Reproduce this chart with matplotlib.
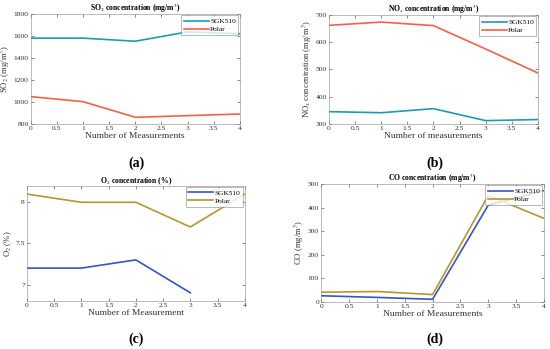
import matplotlib.pyplot as plt

plt.rcParams['font.family'] = ['Liberation Serif', 'DejaVu Serif']
plt.rcParams['mathtext.fontset'] = 'stix'

# Panel (a): SO2
x_a = [0, 1, 2, 3, 4]
so2_sgk = [1580, 1580, 1552, 1637, 1620]
so2_polar = [1048, 1002, 860, 875, 890]

# Panel (b): NOx
x_b = [0, 1, 2, 3, 4]
nox_sgk = [345, 341, 356, 312, 316]
nox_polar = [662, 674, 661, 575, 487]

# Panel (c): O2
x_c_sgk = [0, 1, 2, 3]
o2_sgk = [7.2, 7.2, 7.3, 6.9]
x_c_polar = [0, 1, 2, 3, 4]
o2_polar = [8.1, 8.0, 8.0, 7.7, 8.1]

# Panel (d): CO
x_d = [0, 1, 2, 3, 4]
co_sgk = [26, 19, 11, 410, 472]
co_polar = [41, 44, 31, 451, 354]

teal, red = '#1a9db0', '#f5604a'
blue, olive = '#3355cc', '#b8962e'

fig = plt.figure(figsize=(5.5, 3.49), dpi=100)
ax_a = fig.add_axes([0.056, 0.645, 0.38, 0.315])
ax_b = fig.add_axes([0.598, 0.645, 0.38, 0.312])
ax_c = fig.add_axes([0.049, 0.1375, 0.396, 0.33])
ax_d = fig.add_axes([0.584, 0.135, 0.405, 0.338])


def style(ax, title, xlabel, ylabel):
    ax.set_title(title, fontsize=5.5, fontweight='bold', pad=2)
    ax.set_xlabel(xlabel, fontsize=6.8, color='#333333', labelpad=1)
    ax.set_ylabel(ylabel, fontsize=6.2, color='#333333', labelpad=1)
    ax.tick_params(direction='in', labelsize=5.4, length=2, width=0.4,
                   colors='#333333', pad=1.5, top=True, right=True)
    for s in ax.spines.values():
        s.set_linewidth(0.4)
        s.set_color('#888888')
    ax.set_xlim(0, 4)
    ax.set_xticks([0, 0.5, 1, 1.5, 2, 2.5, 3, 3.5, 4])
    ax.set_xticklabels(['0', '0.5', '1', '1.5', '2', '2.5', '3', '3.5', '4'])
    leg = ax.legend(loc='upper right', fontsize=5.3, frameon=True, fancybox=False,
                    borderpad=0.35, handlelength=3.4, labelspacing=0.25,
                    handletextpad=0.2, borderaxespad=0.2)
    leg.get_frame().set_linewidth(0.4)
    leg.get_frame().set_edgecolor('#666666')


ax_a.plot(x_a, so2_sgk, color=teal, lw=1.2, label='SGK510')
ax_a.plot(x_a, so2_polar, color=red, lw=1.2, label='Polar')
ax_a.set_ylim(800, 1800)
ax_a.set_yticks([800, 1000, 1200, 1400, 1600, 1800])
style(ax_a, r'SO$_2$ concentration (mg/m$^3$)', 'Number of Measurements',
      r'SO$_2$ (mg/m$^3$)')

ax_b.plot(x_b, nox_sgk, color=teal, lw=1.2, label='SGK510')
ax_b.plot(x_b, nox_polar, color=red, lw=1.2, label='Polar')
ax_b.set_ylim(300, 700)
ax_b.set_yticks([300, 400, 500, 600, 700])
style(ax_b, r'NO$_x$ concentration (mg/m$^3$)', 'Number of measurements',
      r'NO$_x$ concentration (mg/m$^3$)')

ax_c.plot(x_c_sgk, o2_sgk, color=blue, lw=1.2, label='SGK510')
ax_c.plot(x_c_polar, o2_polar, color=olive, lw=1.2, label='Polar')
ax_c.set_ylim(6.8, 8.2)
ax_c.set_yticks([7, 7.5, 8])
ax_c.set_yticklabels(['7', '7.5', '8'])
style(ax_c, r'O$_2$ concentration (%)', 'Number of Measurement', r'O$_2$ (%)')

ax_d.plot(x_d, co_sgk, color=blue, lw=1.2, label='SGK510')
ax_d.plot(x_d, co_polar, color=olive, lw=1.2, label='Polar')
ax_d.set_ylim(0, 500)
ax_d.set_yticks([0, 100, 200, 300, 400, 500])
style(ax_d, r'CO concentration (mg/m$^3$)', 'Number of Measurements',
      r'CO (mg/m$^3$)')

for lab, xx, yy in [('(a)', 0.248, 0.512), ('(b)', 0.79, 0.512),
                    ('(c)', 0.248, 0.01), ('(d)', 0.79, 0.01)]:
    fig.text(xx, yy, lab, fontsize=10, fontweight='bold', ha='center',
             va='bottom')

fig.savefig('out.png', dpi=100)
